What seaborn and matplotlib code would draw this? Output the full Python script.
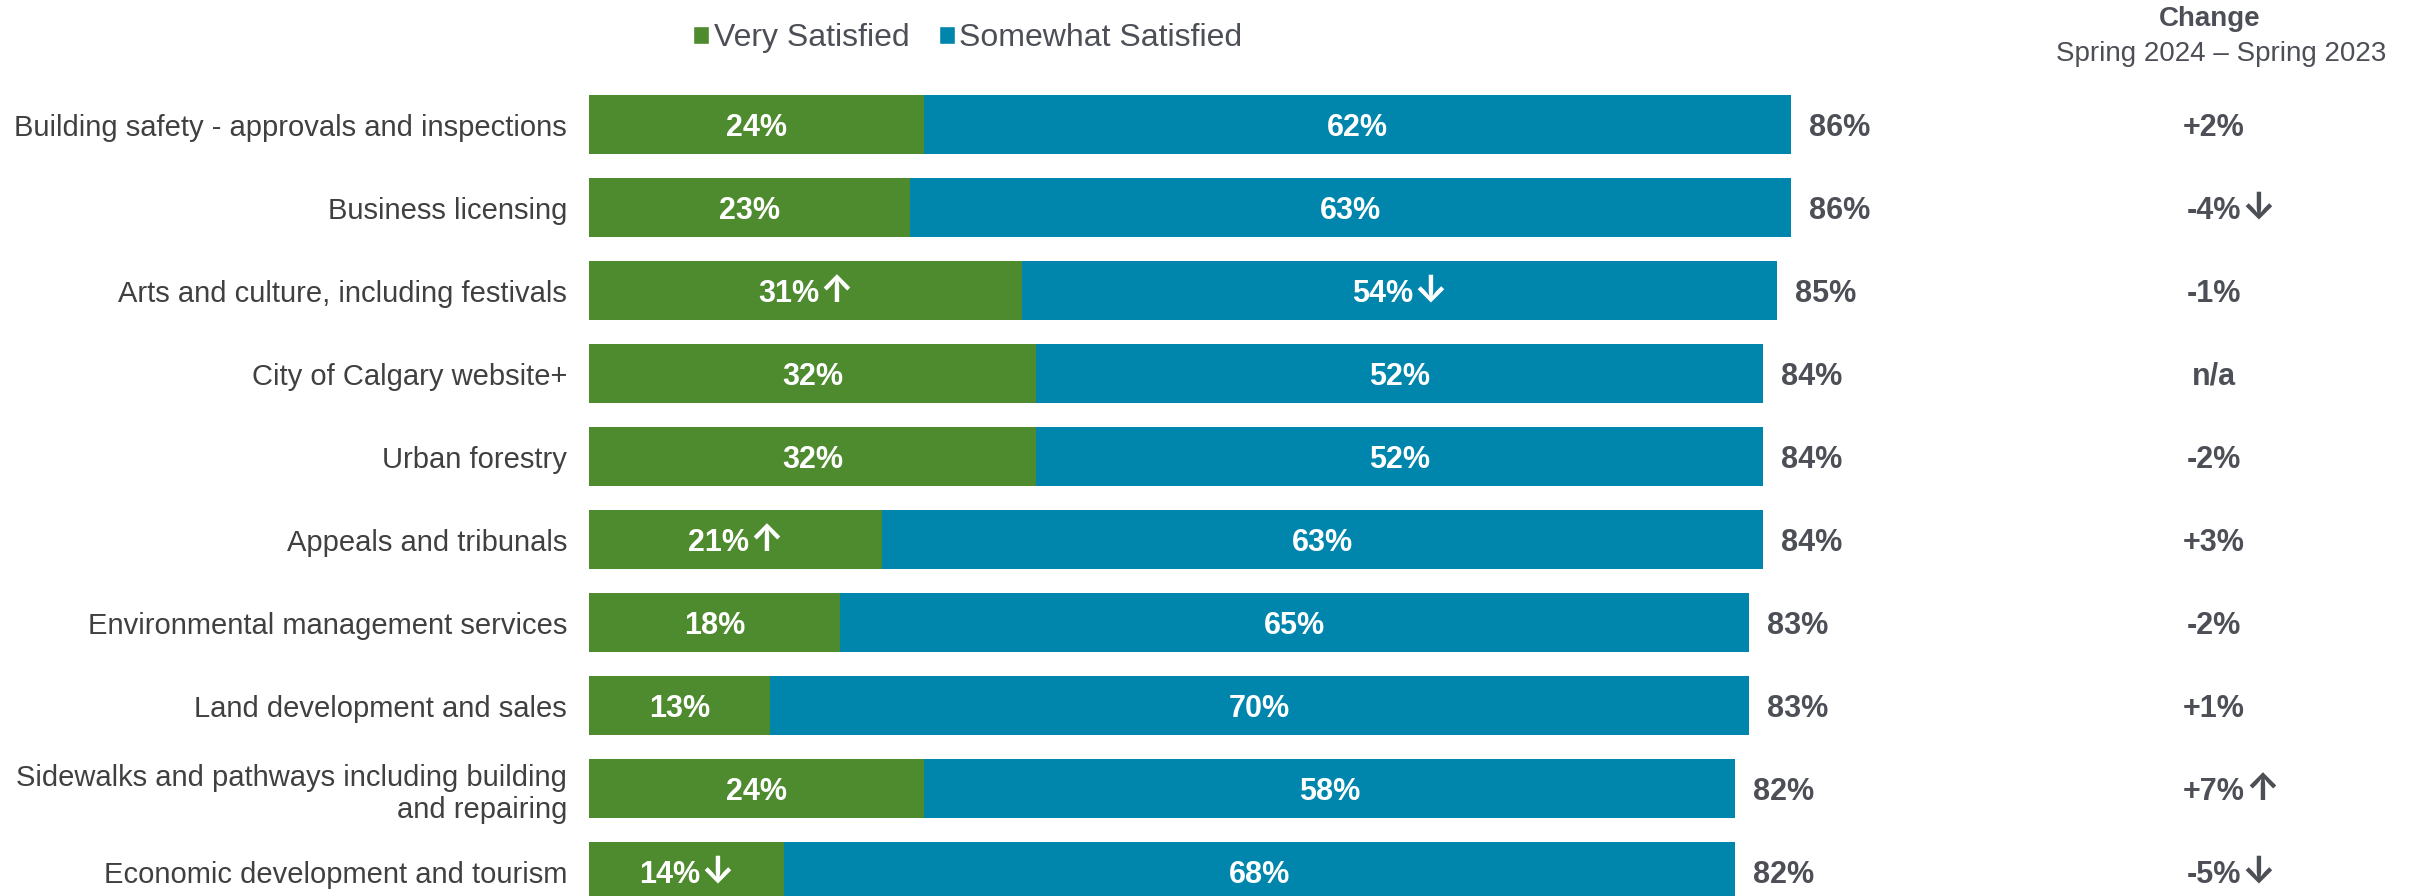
import matplotlib
matplotlib.use("Agg")
import matplotlib.pyplot as plt
from matplotlib.patches import Patch
import seaborn as sns
import pandas as pd

# Satisfaction by city service (percent of respondents)
categories = [
    "Building safety - approvals and inspections",
    "Business licensing",
    "Arts and culture, including festivals",
    "City of Calgary website+",
    "Urban forestry",
    "Appeals and tribunals",
    "Environmental management services",
    "Land development and sales",
    "Sidewalks and pathways including building\nand repairing",
    "Economic development and tourism",
]
very_satisfied = [24, 23, 31, 32, 32, 21, 18, 13, 24, 14]
somewhat_satisfied = [62, 63, 54, 52, 52, 63, 65, 70, 58, 68]
very_marks = ["", "", "↑", "", "", "↑", "", "", "", "↓"]
somewhat_marks = ["", "", "↓", "", "", "", "", "", "", ""]
change_values = ["+2%", "-4%", "-1%", "n/a", "-2%", "+3%", "-2%", "+1%", "+7%", "-5%"]
change_marks = ["", "↓", "", "", "", "", "", "", "↑", "↓"]

GREEN = "#4E8A2E"
BLUE = "#0086AD"
TEXT = "#4D4F57"

df = pd.DataFrame({
    "service": categories,
    "very": very_satisfied,
    "somewhat": somewhat_satisfied,
})
df["total"] = df["very"] + df["somewhat"]

sns.set_theme(style="white")
plt.rcParams["font.family"] = ["Liberation Sans", "DejaVu Sans"]

W, H = 2410, 896
fig = plt.figure(figsize=(W / 100, H / 100), dpi=100)
renderer = fig.canvas.get_renderer()

x0_px = 588.7          # bar origin in pixels
px_per_pct = 13.98     # pixels per percentage point
row0_px = 124.5        # centre of the first row (from top)
row_px = 83.0          # row spacing

ax = fig.add_axes([x0_px / W, 0, 1 - x0_px / W, 1])

sns.barplot(data=df, y="service", x="total", color=BLUE, orient="h",
            width=0.70, saturation=1, ax=ax, edgecolor="none")
sns.barplot(data=df, y="service", x="very", color=GREEN, orient="h",
            width=0.70, saturation=1, ax=ax, edgecolor="none")

ax.set_xlim(0, (W - x0_px) / px_per_pct)
ax.set_ylim((H - row0_px) / row_px, -row0_px / row_px)
ax.set_xlabel("")
ax.set_ylabel("")
ax.set_xticks([])
ax.tick_params(axis="y", length=0, pad=15.5, labelsize=21, labelcolor="#404040")
for lab in ax.get_yticklabels():
    lab.set_y(lab.get_position()[1])
    lab.set_va("center_baseline")
for s in ax.spines.values():
    s.set_visible(False)

FS = 22
num_font = dict(family=["Liberation Sans", "DejaVu Sans"], fontsize=FS, fontweight="bold")
arrow_font = dict(family=["Inter", "DejaVu Sans"], fontsize=27, fontweight="bold")
base_off = 0.72 * FS * 100 / 72 / 2 / row_px   # baseline sits half a cap-height below row centre


def text_width(t):
    return t.get_window_extent(renderer).width / px_per_pct


def label(x, y, num, mark, color, align="center"):
    """Value text with an optional trend arrow; align='center' centres the
    whole label, 'number' centres only the number, 'left' starts at x."""
    yb = y + base_off
    t = ax.text(x, yb, num, ha="left", va="baseline", color=color, **num_font)
    a = None
    wn = text_width(t)
    wa = 0.0
    if mark:
        a = ax.text(x, yb, mark, ha="left", va="baseline", color=color, **arrow_font)
        wa = text_width(a)
    if align == "center":
        left = x - (wn + wa) / 2
    elif align == "number":
        left = x - wn / 2
    else:
        left = x
    t.set_x(left)
    if a is not None:
        a.set_x(left + wn)


for i, row in df.iterrows():
    v, s_, tot = row["very"], row["somewhat"], row["total"]
    label(v / 2, i, f"{v}%", very_marks[i], "white")
    label(v + s_ / 2, i, f"{s_}%", somewhat_marks[i], "white")
    label(tot + 18 / px_per_pct, i, f"{tot}%", "", TEXT, align="left")

# Change column
change_x = (2214 - x0_px) / px_per_pct
for i, (cv, cm) in enumerate(zip(change_values, change_marks)):
    label(change_x, i, cv, cm, TEXT, align="number")

fig.text(2210 / W, 1 - 19 / H, "Change", ha="center", va="center",
         fontsize=20, fontweight="bold", color=TEXT)
fig.text(2221 / W, 1 - 54 / H, "Spring 2024 – Spring 2023", ha="center",
         va="center", fontsize=20, color=TEXT)

handles = [Patch(facecolor=GREEN, label="Very Satisfied"),
           Patch(facecolor=BLUE, label="Somewhat Satisfied")]
leg = fig.legend(handles=handles, loc="center", bbox_to_anchor=(968 / W, 1 - 38 / H),
                 ncol=2, frameon=False, fontsize=23, handlelength=0.5,
                 handleheight=0.5, handletextpad=0.15, columnspacing=0.9)
for txt in leg.get_texts():
    txt.set_color(TEXT)

fig.savefig("out.png", dpi=100)
